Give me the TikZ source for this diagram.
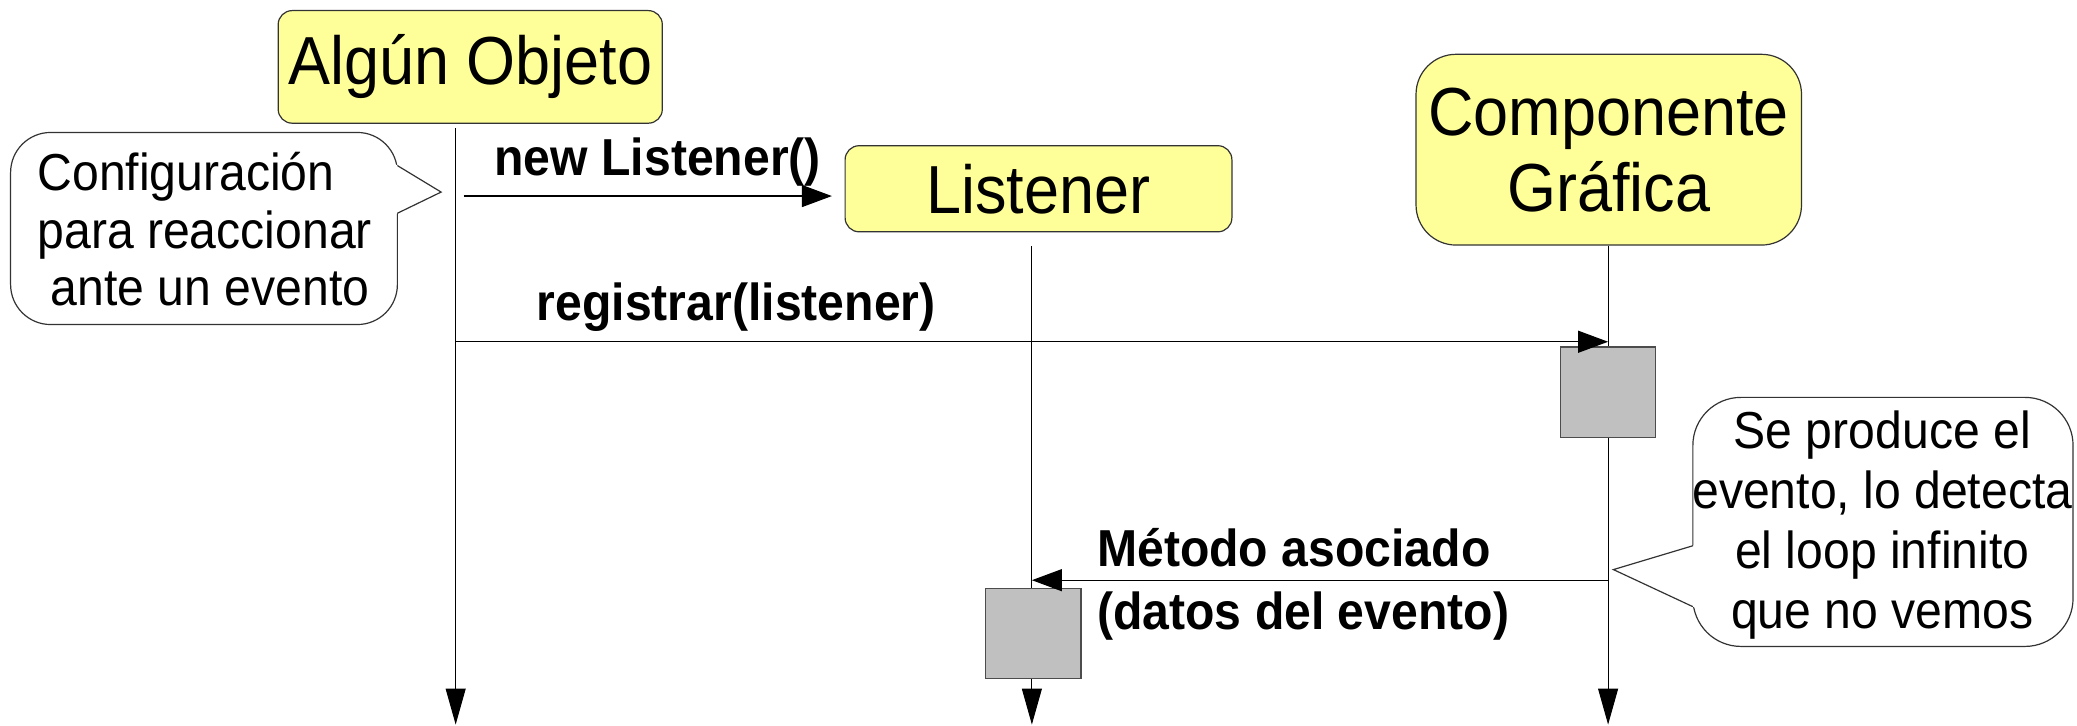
\documentclass[tikz,border=0pt]{standalone}
\usepackage{fontspec}
\setmainfont{Liberation Sans}[FakeStretch=0.926]
\usetikzlibrary{calc,arrows.meta}
\newcommand{\pxunit}{0.6623pt}
\definecolor{objyellow}{HTML}{FFFF99}
\definecolor{actgray}{HTML}{C0C0C0}
\newcommand{\makecallout}[6]{
	\draw[callout, rounded corners=#6] (#1) rectangle (#2);
	\fill[white] ($(#3)!-1.5pt!(#4)$) -- (#4) -- ($(#5)!-1.5pt!(#4)$) -- cycle;
	\draw[callout] (#3) -- (#4) -- (#5);
}
\tikzset{
	objbox/.style={draw=black!80, fill=objyellow, line width=0.6pt, align=center, inner sep=0pt, font=\fontsize{34}{38}\selectfont},
	actbox/.style={draw=black!70, fill=actgray, line width=0.6pt, inner sep=0pt, minimum width=72*\pxunit, minimum height=68*\pxunit},
	lifeline/.style={line width=0.5pt, -{Triangle[length=18pt,width=10pt]}},
	msg/.style={line width=0.6pt, -{Triangle[length=15pt,width=11pt]}},
	msglabel/.style={anchor=west, align=left, inner sep=0pt, font=\fontsize{26}{31.8}\selectfont\bfseries},
	callout/.style={draw=black!80, line width=0.6pt},
	callouttext/.style={inner sep=0pt, font=\fontsize{26}{28.8}\selectfont}
}
\begin{document}
\begin{tikzpicture}[x=\pxunit,y={(0pt,-\pxunit)}]
	\useasboundingbox (0,0) rectangle (1568,548);

	\node[objbox, rounded corners=7pt, minimum width=290*\pxunit, minimum height=85*\pxunit] (obj) at (355,50.5) {Algún Objeto};
	\node[objbox, rounded corners=7pt, minimum width=292*\pxunit, minimum height=65*\pxunit] (lis) at (784,142.5) {Listener};
	\node[objbox, rounded corners=20pt, minimum width=291*\pxunit, minimum height=144*\pxunit] (comp) at (1214.5,113) {Componente\\Gráfica};

	\coordinate (obj-top) at (344,97);
	\coordinate (obj-end) at (344,547);
	\coordinate (lis-top) at (779,186);
	\coordinate (lis-end) at (779,547);
	\coordinate (comp-end) at (1214,547);

	\draw[lifeline] (obj-top) -- (obj-end);
	\draw[lifeline] (lis-top) -- (lis-end);
	\draw[lifeline] (comp.south -| comp-end) -- (comp-end);

	\node[actbox] (comp-act) at (1214,296) {};
	\node[actbox] (lis-act) at (780,478) {};

	\coordinate (nl-from) at (350,148);
	\coordinate (nl-to) at (628,148);
	\coordinate (reg-from) at (344,258);
	\coordinate (reg-to) at (1214,258);
	\coordinate (ev-from) at (1214,438);
	\coordinate (ev-to) at (779,438);

	\draw[msg] (nl-from) -- (nl-to);
	\draw[msg] (reg-from) -- (reg-to);
	\draw[msg] (ev-from) -- (ev-to);

	\node[msglabel] (nl-lbl) at (373,122) {new Listener()};
	\node[msglabel] (reg-lbl) at (405,232) {registrar(listener)};
	\node[msglabel] (ev-lbl) at (828,441) {Método asociado\\(datos del evento)};

	\makecallout{8,100}{300,245}{300,125}{333,145}{300,161}{20pt}
	\makecallout{1278,300}{1565,488}{1278,412}{1218,430}{1278,458}{24pt}

	\node[callouttext, anchor=west, align=left] (cfg-txt) at (28,173) {Configuración\\para reaccionar\\\ ante un evento};
	\node[callouttext, align=center, font=\fontsize{26}{30}\selectfont] (ev-txt) at (1421,396) {Se produce el\\evento, lo detecta\\el loop infinito\\que no vemos};
\end{tikzpicture}
\end{document}
